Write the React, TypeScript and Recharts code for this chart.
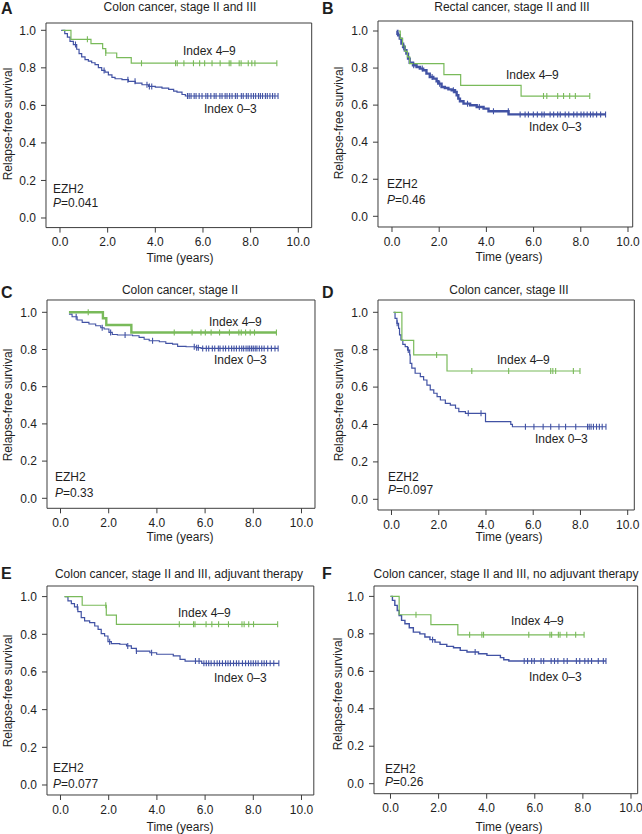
import React from 'react';
import { ComposedChart, Line, Scatter, XAxis, YAxis, ReferenceArea } from 'recharts';

// ---------------- Data (time in years, relapse-free survival) ----------------
// Panel A: Colon cancer, stage II and III
const aHighT = [0.1, 0.46, 1.3, 1.79, 1.92, 2.38, 2.99, 9.1];
const aHighS = [1.0, 0.952, 0.929, 0.902, 0.879, 0.854, 0.825, 0.825];
const aHighC = [1.15, 1.92, 3.42, 4.85, 4.92, 5.2, 5.6, 5.86, 6.07, 6.38, 6.72, 7.1, 7.17, 7.52, 7.6, 7.9, 8.05, 8.18, 9.1];
const aLowT = [0.05, 0.2, 0.31, 0.42, 0.56, 0.7, 0.8, 0.91, 1.05, 1.19, 1.33, 1.47, 1.61, 1.75, 1.89, 2.03, 2.18, 2.31, 2.6, 2.87, 3.16, 3.44, 3.72, 4.0, 4.28, 4.56, 4.77, 4.91, 5.12, 5.26, 9.15];
const aLowS = [1.0, 0.982, 0.964, 0.941, 0.924, 0.899, 0.876, 0.858, 0.844, 0.836, 0.827, 0.817, 0.801, 0.786, 0.777, 0.763, 0.749, 0.742, 0.737, 0.728, 0.719, 0.71, 0.701, 0.697, 0.692, 0.685, 0.676, 0.671, 0.658, 0.65, 0.65];
const aLowC = [0.65, 1.85, 2.85, 3.15, 3.65, 3.75, 3.85, 5.35, 5.42, 5.5, 5.63, 5.71, 5.84, 5.96, 6.12, 6.2, 6.33, 6.47, 6.55, 6.71, 6.8, 6.93, 7.01, 7.12, 7.22, 7.36, 7.44, 7.61, 7.69, 7.82, 7.9, 8.02, 8.12, 8.21, 8.33, 8.41, 8.5, 8.62, 8.7, 8.81, 8.92, 9.02, 9.15];

// Panel B: Rectal cancer, stage II and III
const bHighT = [0.28, 0.35, 0.45, 0.55, 0.65, 0.75, 2.2, 2.91, 5.47, 8.38];
const bHighS = [1.0, 0.96, 0.92, 0.89, 0.86, 0.824, 0.765, 0.707, 0.649, 0.649];
const bHighC = [6.42, 6.56, 7.02, 7.27, 7.53, 7.77, 8.38];
const bLowT = [0.2, 0.23, 0.26, 0.33, 0.4, 0.47, 0.54, 0.61, 0.68, 0.75, 0.89, 1.04, 1.18, 1.32, 1.46, 1.6, 1.75, 1.89, 1.96, 2.1, 2.24, 2.39, 2.53, 2.67, 2.74, 2.81, 2.88, 3.03, 3.31, 3.59, 3.88, 4.09, 4.94, 9.05];
const bLowS = [1.0, 0.985, 0.977, 0.959, 0.932, 0.914, 0.896, 0.878, 0.851, 0.829, 0.815, 0.806, 0.797, 0.788, 0.77, 0.752, 0.743, 0.729, 0.716, 0.698, 0.692, 0.685, 0.68, 0.671, 0.653, 0.635, 0.621, 0.608, 0.599, 0.59, 0.581, 0.567, 0.55, 0.55];
const bLowC = [0.5, 0.92, 1.28, 1.7, 2.02, 2.6, 3.2, 3.7, 4.3, 4.93, 5.43, 5.64, 5.78, 5.99, 6.16, 6.35, 6.45, 6.7, 6.85, 7.02, 7.13, 7.34, 7.49, 7.7, 7.84, 8.01, 8.13, 8.27, 8.41, 8.52, 8.67, 8.84, 9.05];

// Panel C: Colon cancer, stage II
const cHighT = [0.35, 1.76, 1.9, 2.94, 8.96];
const cHighS = [1.0, 0.968, 0.932, 0.891, 0.891];
const cHighC = [1.15, 4.72, 5.46, 5.83, 6.01, 6.25, 6.6, 7.01, 7.4, 7.5, 7.68, 7.87, 8.05, 8.96];
const cLowT = [0.35, 0.48, 0.69, 0.9, 1.18, 1.46, 1.67, 1.81, 2.01, 2.15, 2.36, 2.99, 3.26, 3.47, 3.68, 4.1, 4.37, 4.65, 4.86, 5.21, 5.62, 5.83, 9.03];
const cLowS = [0.99, 0.976, 0.959, 0.946, 0.937, 0.928, 0.917, 0.91, 0.892, 0.881, 0.878, 0.874, 0.865, 0.855, 0.847, 0.842, 0.833, 0.829, 0.817, 0.815, 0.81, 0.806, 0.806];
const cLowC = [0.65, 1.73, 2.08, 2.68, 3.82, 5.55, 5.65, 5.72, 5.9, 6.05, 6.15, 6.3, 6.4, 6.55, 6.62, 6.75, 6.85, 6.98, 7.1, 7.2, 7.3, 7.42, 7.52, 7.6, 7.7, 7.78, 7.85, 7.93, 8.0, 8.08, 8.15, 8.25, 8.35, 8.45, 8.6, 8.75, 8.9, 9.03];

// Panel D: Colon cancer, stage III
const dHighT = [0.09, 0.44, 0.94, 2.35, 7.98];
const dHighS = [1.0, 0.85, 0.772, 0.686, 0.686];
const dHighC = [1.91, 3.4, 4.96, 6.74, 6.83, 6.95, 7.7, 7.98];
const dLowT = [0.09, 0.15, 0.23, 0.3, 0.34, 0.4, 0.48, 0.58, 0.68, 0.77, 0.79, 0.86, 1.0, 1.22, 1.36, 1.5, 1.64, 1.79, 1.93, 2.07, 2.28, 2.49, 2.71, 2.85, 3.13, 3.98, 5.05, 5.12, 9.08];
const dLowS = [1.0, 0.968, 0.941, 0.914, 0.879, 0.852, 0.829, 0.816, 0.798, 0.772, 0.727, 0.701, 0.674, 0.656, 0.638, 0.611, 0.585, 0.567, 0.549, 0.531, 0.513, 0.504, 0.487, 0.469, 0.46, 0.415, 0.401, 0.388, 0.388];
const dLowC = [0.24, 0.71, 3.25, 3.79, 5.67, 6.03, 6.42, 6.74, 7.09, 7.37, 7.8, 8.3, 8.37, 8.45, 8.55, 8.68, 8.8, 8.92, 9.08];

// Panel E: Colon cancer, stage II and III, adjuvant therapy
const eHighT = [0.17, 0.9, 1.9, 2.32, 9.01];
const eHighS = [1.0, 0.954, 0.902, 0.853, 0.853];
const eHighC = [1.88, 4.93, 5.52, 5.58, 6.04, 6.28, 6.56, 6.97, 7.53, 7.62, 7.81, 8.01, 9.01];
const eLowT = [0.17, 0.31, 0.45, 0.58, 0.72, 0.86, 1.0, 1.21, 1.42, 1.56, 1.69, 1.83, 1.97, 2.11, 2.46, 2.74, 2.94, 3.15, 3.71, 3.99, 4.68, 4.96, 5.17, 5.86, 9.06];
const eLowS = [1.0, 0.977, 0.963, 0.945, 0.92, 0.888, 0.871, 0.862, 0.844, 0.826, 0.803, 0.791, 0.761, 0.75, 0.747, 0.738, 0.725, 0.711, 0.702, 0.694, 0.685, 0.667, 0.658, 0.646, 0.646];
const eLowC = [0.7, 2.04, 2.79, 3.15, 3.78, 5.6, 5.75, 5.95, 6.05, 6.15, 6.25, 6.38, 6.5, 6.6, 6.72, 6.85, 6.95, 7.05, 7.18, 7.3, 7.4, 7.55, 7.68, 7.8, 7.9, 8.0, 8.1, 8.2, 8.35, 8.45, 8.55, 8.7, 8.85, 9.06];

// Panel F: Colon cancer, stage II and III, no adjuvant therapy
const fHighT = [0.0, 0.36, 1.68, 2.8, 8.05];
const fHighS = [1.0, 0.902, 0.849, 0.795, 0.795];
const fHighC = [1.06, 3.29, 3.8, 3.87, 5.75, 6.63, 6.7, 6.98, 7.05, 7.33, 7.7, 8.05];
const fLowT = [0.0, 0.08, 0.18, 0.28, 0.36, 0.46, 0.6, 0.78, 0.95, 1.22, 1.43, 1.64, 1.85, 2.06, 2.34, 2.62, 2.9, 3.18, 3.66, 4.01, 4.57, 4.71, 4.92, 8.96];
const fLowS = [1.0, 0.979, 0.952, 0.925, 0.898, 0.872, 0.854, 0.833, 0.809, 0.8, 0.783, 0.769, 0.756, 0.744, 0.733, 0.726, 0.712, 0.703, 0.694, 0.685, 0.673, 0.662, 0.655, 0.655];
const fLowC = [1.75, 3.52, 5.56, 5.7, 5.87, 5.98, 6.26, 6.37, 6.68, 6.82, 6.96, 7.21, 7.35, 7.73, 7.87, 8.08, 8.22, 8.36, 8.64, 8.85, 8.96];

// Text
const panelLetters = ['A', 'B', 'C', 'D', 'E', 'F'];
const panelTitles = [
  'Colon cancer, stage II and III',
  'Rectal cancer, stage II and III',
  'Colon cancer, stage II',
  'Colon cancer, stage III',
  'Colon cancer, stage II and III, adjuvant therapy',
  'Colon cancer, stage II and III, no adjuvant therapy',
];
const pValues = ['0.041', '0.46', '0.33', '0.097', '0.077', '0.26'];
const xTicks = [0, 2, 4, 6, 8, 10];
const yTicks = [0, 0.2, 0.4, 0.6, 0.8, 1.0];
const highLabel = 'Index 4\u20139';
const lowLabel = 'Index 0\u20133';
const markerName = 'EZH2';
const yAxisTitle = 'Relapse-free survival';
const xAxisTitle = 'Time (years)';

// ---------------- Styling / layout ----------------
const FONT = '"Liberation Sans", Arial, Helvetica, sans-serif';
const GREEN = '#79ba5a';
const BLUE = '#4152a4';
const INK = '#1e1e1e';
const FRAME = '#3c3c3c';

type XY = { x: number; y: number };
type Layout = {
  box: { l: number; t: number; r: number; b: number };
  x0: number; x10: number; y0: number; y1: number;
  wHigh: number; wLow: number;
  letter: XY; title: XY; hi: XY; lo: XY; ezh: XY; p: XY; ylab: XY; xlab: XY;
};

const layouts: Layout[] = [
  { box: { l: 46, t: 22.7, r: 311.7, b: 227.3 }, x0: 60, x10: 298.3, y0: 217.7, y1: 30, wHigh: 1.2, wLow: 1.2,
    letter: { x: 1, y: 14 }, title: { x: 180, y: 11 }, hi: { x: 183, y: 55 }, lo: { x: 204, y: 113 },
    ezh: { x: 53, y: 193 }, p: { x: 53, y: 207 }, ylab: { x: 8, y: 124 }, xlab: { x: 180, y: 262 } },
  { box: { l: 378, t: 20.7, r: 632.7, b: 226.7 }, x0: 392, x10: 628, y0: 216, y1: 30.7, wHigh: 1.2, wLow: 2.4,
    letter: { x: 322, y: 14 }, title: { x: 512, y: 11 }, hi: { x: 506, y: 79 }, lo: { x: 529, y: 131 },
    ezh: { x: 387, y: 188 }, p: { x: 387, y: 204 }, ylab: { x: 339, y: 123 }, xlab: { x: 509, y: 261 } },
  { box: { l: 47, t: 300, r: 315, b: 508.3 }, x0: 60.5, x10: 301.5, y0: 498.3, y1: 312.3, wHigh: 2.4, wLow: 1.1,
    letter: { x: 1, y: 298 }, title: { x: 180, y: 294 }, hi: { x: 209, y: 326 }, lo: { x: 214, y: 364 },
    ezh: { x: 55, y: 481 }, p: { x: 55, y: 496.5 }, ylab: { x: 7.5, y: 405 }, xlab: { x: 180, y: 541 } },
  { box: { l: 378, t: 300, r: 634.3, b: 510 }, x0: 391.5, x10: 627.7, y0: 499.3, y1: 312.3, wHigh: 1.2, wLow: 1.2,
    letter: { x: 322, y: 298 }, title: { x: 509, y: 294 }, hi: { x: 497, y: 364 }, lo: { x: 535, y: 442.5 },
    ezh: { x: 388, y: 481 }, p: { x: 388, y: 494 }, ylab: { x: 339, y: 405 }, xlab: { x: 509, y: 541 } },
  { box: { l: 46.5, t: 585.7, r: 313.3, b: 794.7 }, x0: 60, x10: 301, y0: 784.7, y1: 596.3, wHigh: 1.2, wLow: 1.2,
    letter: { x: 1, y: 579 }, title: { x: 179, y: 578 }, hi: { x: 178, y: 616.5 }, lo: { x: 214, y: 682 },
    ezh: { x: 53, y: 771.5 }, p: { x: 53, y: 787.5 }, ylab: { x: 7.5, y: 691 }, xlab: { x: 180, y: 830.5 } },
  { box: { l: 374, t: 586.3, r: 637.7, b: 794 }, x0: 390.5, x10: 631, y0: 784, y1: 596.7, wHigh: 1.2, wLow: 1.4,
    letter: { x: 322, y: 579 }, title: { x: 506, y: 578 }, hi: { x: 511, y: 625 }, lo: { x: 529, y: 681 },
    ezh: { x: 385, y: 772.5 }, p: { x: 385, y: 786 }, ylab: { x: 338, y: 694 }, xlab: { x: 509, y: 830.5 } },
];

const seriesData: [number[], number[], number[], number[], number[], number[]][] = [
  [aHighT, aHighS, aHighC, aLowT, aLowS, aLowC],
  [bHighT, bHighS, bHighC, bLowT, bLowS, bLowC],
  [cHighT, cHighS, cHighC, cLowT, cLowS, cLowC],
  [dHighT, dHighS, dHighC, dLowT, dLowS, dLowC],
  [eHighT, eHighS, eHighC, eLowT, eLowS, eLowC],
  [fHighT, fHighS, fHighC, fLowT, fLowS, fLowC],
];

const toSteps = (T: number[], S: number[]) => T.map((t, i) => ({ t, s: S[i] }));
const censorPts = (C: number[], T: number[], S: number[]) =>
  C.map((c) => {
    let s = S[0];
    for (let i = 0; i < T.length; i++) if (T[i] <= c + 1e-9) s = S[i];
    return { t: c, s };
  });

const makeTick = (color: string, w: number) => (props: any) => {
  const { cx, cy } = props;
  if (cx == null || cy == null) return <g />;
  return <line x1={cx} x2={cx} y1={cy - 3} y2={cy + 3} stroke={color} strokeWidth={w} />;
};

function Panel({ idx }: { idx: number }) {
  const L = layouts[idx];
  const [hT, hS, hC, lT, lS, lC] = seriesData[idx];
  const { box, x0, x10, y0, y1 } = L;
  const ppx = (x10 - x0) / 10;
  const xMin = (box.l - x0) / ppx;
  const xMax = (box.r - x0) / ppx;
  const ppy = y0 - y1;
  const yMax = (y0 - box.t) / ppy;
  const yMin = (y0 - box.b) / ppy;
  const LM = 50, TM = 4, RM = 20, BM = 36;
  const w = box.r - box.l + LM + RM;
  const h = box.b - box.t + TM + BM;
  const tickStyle = { fontSize: 12, fill: INK, fontFamily: FONT };
  return (
    <div style={{ position: 'absolute', left: box.l - LM, top: box.t - TM }}>
      <ComposedChart width={w} height={h} margin={{ top: TM, right: RM, bottom: 0, left: 0 }}>
        <XAxis type="number" dataKey="t" domain={[xMin, xMax]} allowDataOverflow ticks={xTicks} interval={0}
          tickFormatter={(v: number) => v.toFixed(1)} axisLine={false} tickSize={5} tickMargin={5}
          height={BM} tick={tickStyle} tickLine={{ stroke: FRAME }} />
        <YAxis type="number" dataKey="s" domain={[yMin, yMax]} allowDataOverflow ticks={yTicks} interval={0}
          tickFormatter={(v: number) => v.toFixed(1)} axisLine={false} tickSize={5} tickMargin={5}
          width={LM} tick={tickStyle} tickLine={{ stroke: FRAME }} />
        <ReferenceArea x1={xMin} x2={xMax} y1={yMin} y2={yMax} fill="none" stroke={FRAME} strokeWidth={1} ifOverflow="visible" />
        <Line data={toSteps(lT, lS)} dataKey="s" type="stepAfter" stroke={BLUE} strokeWidth={L.wLow} dot={false} isAnimationActive={false} />
        <Scatter data={censorPts(lC, lT, lS)} dataKey="s" shape={makeTick(BLUE, 1.1)} isAnimationActive={false} />
        <Line data={toSteps(hT, hS)} dataKey="s" type="stepAfter" stroke={GREEN} strokeWidth={L.wHigh} dot={false} isAnimationActive={false} />
        <Scatter data={censorPts(hC, hT, hS)} dataKey="s" shape={makeTick(GREEN, 1.1)} isAnimationActive={false} />
      </ComposedChart>
    </div>
  );
}

function Annotations() {
  return (
    <svg width={642} height={834} style={{ position: 'absolute', left: 0, top: 0, pointerEvents: 'none' }}
      fontFamily={FONT} fill={INK}>
      {layouts.map((L, i) => (
        <g key={i}>
          <text x={L.letter.x} y={L.letter.y} fontSize={16} fontWeight="bold">{panelLetters[i]}</text>
          <text x={L.title.x} y={L.title.y} fontSize={12} textAnchor="middle">{panelTitles[i]}</text>
          <text x={L.hi.x} y={L.hi.y} fontSize={12}>{highLabel}</text>
          <text x={L.lo.x} y={L.lo.y} fontSize={12}>{lowLabel}</text>
          <text x={L.ezh.x} y={L.ezh.y} fontSize={12}>{markerName}</text>
          <text x={L.p.x} y={L.p.y} fontSize={12}>
            <tspan fontStyle="italic">P</tspan>={pValues[i]}
          </text>
          <text x={L.ylab.x} y={L.ylab.y + 4} fontSize={12} textAnchor="middle"
            transform={`rotate(-90, ${L.ylab.x}, ${L.ylab.y})`}>{yAxisTitle}</text>
          <text x={L.xlab.x} y={L.xlab.y} fontSize={12} textAnchor="middle">{xAxisTitle}</text>
        </g>
      ))}
    </svg>
  );
}

export default function App() {
  return (
    <div style={{ position: 'absolute', left: 0, top: 0, width: 642, height: 834, background: '#fff', fontFamily: FONT, overflow: 'hidden' }}>
      {layouts.map((_, i) => (
        <Panel key={i} idx={i} />
      ))}
      <Annotations />
    </div>
  );
}
